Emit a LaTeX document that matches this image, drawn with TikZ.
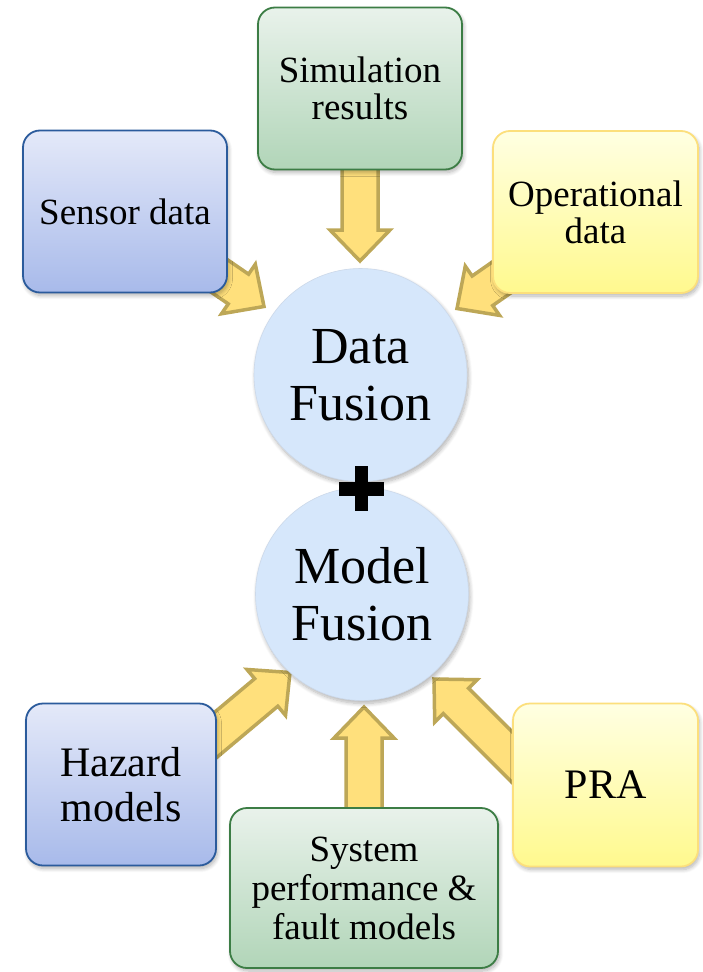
\documentclass[tikz,border=0pt]{standalone}
\usepackage{fontspec}
\setmainfont{Liberation Serif}
\usetikzlibrary{calc,shadows.blur}

\definecolor{bluetop}{HTML}{E4E9F9}
\definecolor{bluebot}{HTML}{A8BAEA}
\definecolor{bluedge}{HTML}{2B5B9C}
\definecolor{greentop}{HTML}{E9F2EB}
\definecolor{greenbot}{HTML}{B1D5B8}
\definecolor{greenedge}{HTML}{3C7D45}
\definecolor{yellowtop}{HTML}{FFFFE2}
\definecolor{yellowbot}{HTML}{FFF98E}
\definecolor{yellowedge}{HTML}{FCDF7C}
\definecolor{fusionfill}{HTML}{D6E7FB}
\definecolor{fusionedge}{HTML}{CCD9EA}
\definecolor{arrowfill}{HTML}{FFE07C}
\definecolor{arrowedge}{HTML}{BDA757}

\pgfdeclarelayer{arrows}
\pgfsetlayers{arrows,main}

\tikzset{
  softshadow/.style={blur shadow={shadow xshift=1.5pt, shadow yshift=-3pt,
      shadow blur radius=4pt, shadow blur steps=8, shadow opacity=30}},
  card/.style={rounded corners=17pt, line width=1.8pt, align=center,
      inner sep=0pt, text=black, softshadow},
  bluecard/.style={card, draw=bluedge, top color=bluetop, bottom color=bluebot},
  greencard/.style={card, draw=greenedge, top color=greentop, bottom color=greenbot},
  yellowcard/.style={card, draw=yellowedge, top color=yellowtop, bottom color=yellowbot},
  fusion/.style={circle, fill=fusionfill, draw=fusionedge, line width=0.6pt,
      minimum size=213pt, inner sep=0pt, align=center, softshadow,
      font=\fontsize{52}{57}\selectfont},
  boxtext/.style={font=\fontsize{37}{37}\selectfont},
  bigtext/.style={font=\fontsize{42}{45}\selectfont},
  flowarrow/.style={fill=arrowfill, draw=arrowedge, line width=3.5pt, line join=miter},
  plusbar/.style={fill=black, inner sep=0pt},
}

% block arrow from #1 to the tip #2; #3 names the head base
\newcommand\flowarrow[3]{%
  \coordinate (#3) at ($(#2)!31pt!(#1)$);
  \draw[flowarrow]
    ($(#1)!18pt!90:(#2)$) -- ($(#3)!18pt!90:(#2)$) -- ($(#3)!30pt!90:(#2)$)
    -- (#2)
    -- ($(#3)!30pt!-90:(#2)$) -- ($(#3)!18pt!-90:(#2)$) -- ($(#1)!18pt!-90:(#2)$)
    -- cycle;}

\begin{document}
\begin{tikzpicture}[x=1pt,y=-1pt]
\useasboundingbox (0,0) rectangle (702,972);

% fusion circles
\node[fusion] (df) at (360.5,375) {Data\\Fusion};
\node[fusion] (mf) at (362,594) {Model\\Fusion};

% input cards
\node[bluecard, minimum width=204pt, minimum height=162pt, boxtext]
  (sd) at (125,211.5) {Sensor data};
\node[greencard, minimum width=204pt, minimum height=162pt, boxtext]
  (sim) at (360,88.5) {Simulation\\results};
\node[yellowcard, minimum width=205pt, minimum height=162pt, boxtext]
  (op) at (595.5,212) {Operational\\data};
\node[bluecard, minimum width=190pt, minimum height=162pt, bigtext]
  (hz) at (121,784.5) {Hazard\\models};
\node[greencard, minimum width=268pt, minimum height=160pt,
      font=\fontsize{37}{39}\selectfont]
  (sys) at (364,888) {System\\performance \&\\fault models};
\node[yellowcard, minimum width=185pt, minimum height=163pt, bigtext]
  (pra) at (605.5,785) {PRA};

% arrow tips next to the circles, and sources inside the cards
\coordinate (sim-tip) at (360,261);
\coordinate (sd-tip)  at (264,306.5);
\coordinate (op-tip)  at (457,308.5);
\coordinate (hz-tip)  at (290,672.5);
\coordinate (hz-src)  at (175,769);
\coordinate (sys-tip) at (364,707);
\coordinate (pra-tip) at (434,679);
\coordinate (pra-src) at (552,797);

\begin{pgfonlayer}{arrows}
  \flowarrow{sim.center}{sim-tip}{sim-base}
  \flowarrow{sd.center}{sd-tip}{sd-base}
  \flowarrow{op.center}{op-tip}{op-base}
  \flowarrow{hz-src}{hz-tip}{hz-base}
  \flowarrow{sys.center}{sys-tip}{sys-base}
  \flowarrow{pra-src}{pra-tip}{pra-base}
\end{pgfonlayer}

% plus sign joining the two circles
\node[plusbar, minimum width=45pt, minimum height=14pt] (plus-h) at (361.5,489) {};
\node[plusbar, minimum width=13.5pt, minimum height=45pt] (plus-v) at (361.5,488.5) {};
\end{tikzpicture}
\end{document}
